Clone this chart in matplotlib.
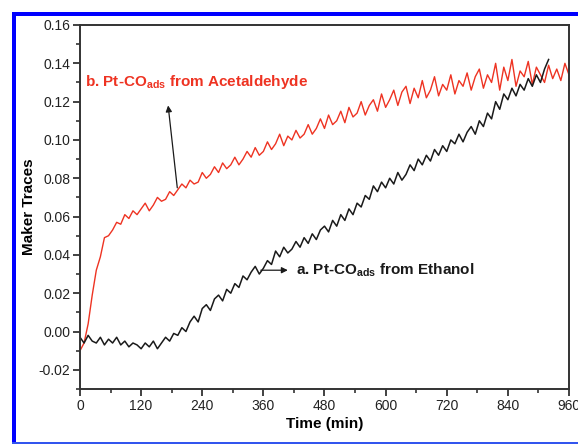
import numpy as np
import matplotlib
matplotlib.use('agg')
import matplotlib.pyplot as plt
import matplotlib.patches as mpatches
from matplotlib.ticker import MultipleLocator

##### Settings
plt.rcParams['font.family'] = 'Liberation Sans'
plt.rcParams['mathtext.fontset'] = 'custom'
plt.rcParams['mathtext.rm'] = 'Liberation Sans'
plt.rcParams['mathtext.bf'] = 'Liberation Sans:bold'

##### Data (one reading every 8 min)
step_min = 8
# b. Pt-CO_ads from acetaldehyde
v_acet = [-0.010, -0.006, 0.004, 0.019, 0.032, 0.039, 0.049, 0.050, 0.053, 0.057,
          0.056, 0.061, 0.059, 0.063, 0.061, 0.064, 0.067, 0.063, 0.066, 0.070,
          0.068, 0.069, 0.073, 0.071, 0.074, 0.077, 0.075, 0.079, 0.077, 0.078,
          0.083, 0.080, 0.082, 0.086, 0.083, 0.088, 0.085, 0.087, 0.091, 0.087,
          0.090, 0.094, 0.091, 0.096, 0.092, 0.094, 0.099, 0.095, 0.098, 0.103,
          0.097, 0.102, 0.100, 0.105, 0.101, 0.103, 0.108, 0.103, 0.106, 0.111,
          0.106, 0.113, 0.108, 0.110, 0.115, 0.109, 0.117, 0.112, 0.114, 0.120,
          0.113, 0.118, 0.121, 0.115, 0.124, 0.117, 0.121, 0.126, 0.118, 0.125,
          0.128, 0.119, 0.127, 0.122, 0.131, 0.122, 0.126, 0.133, 0.123, 0.129,
          0.126, 0.134, 0.124, 0.131, 0.128, 0.135, 0.126, 0.133, 0.137, 0.127,
          0.134, 0.130, 0.140, 0.126, 0.138, 0.131, 0.142, 0.128, 0.136, 0.133,
          0.141, 0.129, 0.138, 0.134, 0.130, 0.139, 0.132, 0.137, 0.131, 0.140,
          0.134]
# a. Pt-CO_ads from ethanol
v_eth = [-0.003, -0.006, -0.002, -0.005, -0.006, -0.003, -0.007, -0.004, -0.006, -0.003,
         -0.007, -0.005, -0.008, -0.006, -0.007, -0.009, -0.006, -0.008, -0.005, -0.009,
         -0.006, -0.003, -0.005, -0.001, -0.002, 0.002, 0.000, 0.005, 0.008, 0.005,
         0.012, 0.014, 0.011, 0.017, 0.019, 0.016, 0.022, 0.020, 0.025, 0.023,
         0.029, 0.027, 0.031, 0.034, 0.030, 0.033, 0.037, 0.035, 0.042, 0.039,
         0.044, 0.041, 0.043, 0.047, 0.044, 0.049, 0.046, 0.051, 0.048, 0.053,
         0.055, 0.052, 0.058, 0.055, 0.061, 0.058, 0.064, 0.061, 0.067, 0.065,
         0.071, 0.069, 0.076, 0.073, 0.078, 0.075, 0.080, 0.077, 0.083, 0.079,
         0.082, 0.087, 0.084, 0.090, 0.087, 0.092, 0.089, 0.095, 0.092, 0.097,
         0.094, 0.100, 0.098, 0.103, 0.099, 0.104, 0.107, 0.103, 0.110, 0.107,
         0.114, 0.111, 0.120, 0.116, 0.124, 0.121, 0.127, 0.123, 0.129, 0.126,
         0.132, 0.128, 0.134, 0.130, 0.137, 0.142]
t_acet = step_min * np.arange(len(v_acet))
t_eth = step_min * np.arange(len(v_eth))

x_ticks = [0, 120, 240, 360, 480, 600, 720, 840, 960]
y_ticks = [-0.02, 0.00, 0.02, 0.04, 0.06, 0.08, 0.10, 0.12, 0.14, 0.16]

##### Plot
W, H = 578., 444.
fig = plt.figure(figsize=(W / 100, H / 100), dpi=100)
ax = fig.add_axes([0.1384, 0.1239, 0.846, 0.8198])

ax.plot(t_acet, v_acet, color='#ee3322', linewidth=1.0)
ax.plot(t_eth, v_eth, color='#1a1a1a', linewidth=1.1)

ax.set_xlim(0, 960)
ax.set_ylim(-0.03, 0.16)
ax.set_xticks(x_ticks)
ax.set_yticks(y_ticks)
ax.set_yticklabels(['%.2f' % y for y in y_ticks])
ax.xaxis.set_minor_locator(MultipleLocator(60))
ax.yaxis.set_minor_locator(MultipleLocator(0.01))
ax.tick_params(which='major', direction='out', length=5, width=1.3, colors='#333333',
               labelsize=10, labelcolor='#222222', pad=2)
ax.tick_params(which='minor', direction='out', length=3, width=1.2, colors='#333333')
for sp in ax.spines.values():
    sp.set_linewidth(1.4)
    sp.set_color('#333333')

ax.set_xlabel('Time (min)', fontsize=11, fontweight='bold', labelpad=3)
ax.set_ylabel('Maker Traces', fontsize=11, fontweight='bold', labelpad=2)

# annotations
ax.text(10, 0.130, r'b. Pt-CO$_\mathbf{ads}$ from Acetaldehyde', color='#ee3322',
        fontsize=11, fontweight='bold', va='center', ha='left')
ax.annotate('', xy=(173, 0.118), xytext=(191, 0.075),
            arrowprops=dict(arrowstyle='-|>', color='#1a1a1a', lw=0.9,
                            mutation_scale=9, shrinkA=0, shrinkB=0))
ax.text(425, 0.032, r'a. Pt-CO$_\mathbf{ads}$ from Ethanol', color='#1a1a1a',
        fontsize=11, fontweight='bold', va='center', ha='left')
ax.annotate('', xy=(408, 0.032), xytext=(355, 0.032),
            arrowprops=dict(arrowstyle='-|>', color='#1a1a1a', lw=0.9,
                            mutation_scale=9, shrinkA=0, shrinkB=0))

# blue frame round the figure, drawn as filled bars (left, top, bottom)
# (x0, y0 from top, width, height) in pixels
bars = [(12, 12, 4, H - 12, '#0000ff'),
        (12, 12, W - 12, 4, '#0000ff'),
        (12, H - 2, W - 12, 2, '#3355ee')]
for bx, by, bw, bh, bc in bars:
    fig.add_artist(mpatches.Rectangle((bx / W, 1 - (by + bh) / H), bw / W, bh / H,
                                      transform=fig.transFigure, facecolor=bc,
                                      edgecolor='none', linewidth=0))

plt.savefig('out.png', dpi=100)
